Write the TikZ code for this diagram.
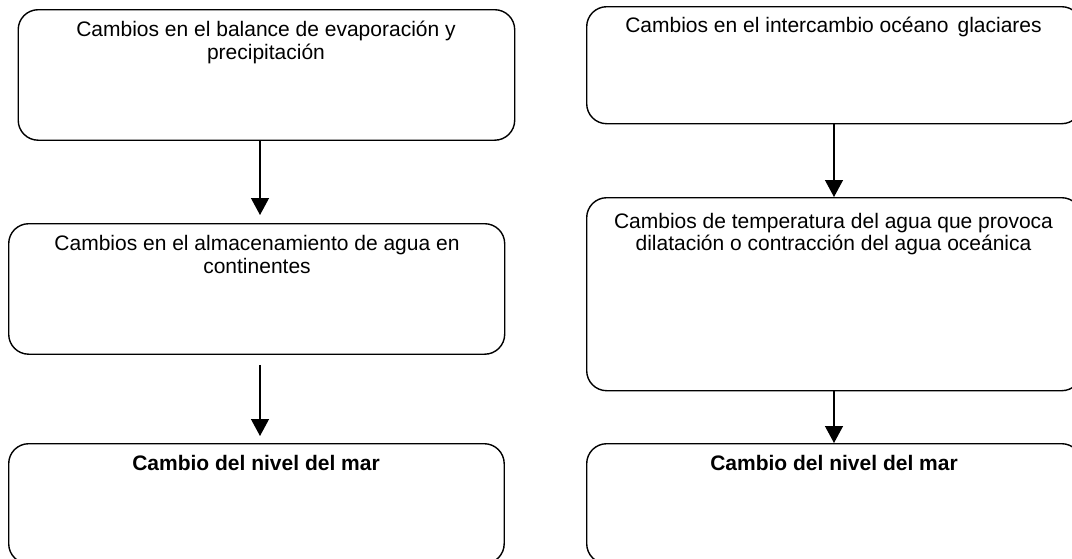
\documentclass[tikz,border=0pt]{standalone}
\usepackage{fontspec}
\setmainfont{Liberation Sans}
\usetikzlibrary{arrows.meta}
\tikzset{
  box/.style={draw, line width=1.4pt, rounded corners=20pt, inner sep=0pt, anchor=north west},
  txt/.style={inner sep=0pt, anchor=base, font=\fontsize{21}{23}\selectfont},
  btxt/.style={inner sep=0pt, anchor=base, font=\fontsize{21}{23}\selectfont\bfseries},
  arr/.style={line width=1.3pt, -{Triangle[width=18pt,length=17pt]}}
}
\begin{document}
\begin{tikzpicture}[x=1pt,y=-1pt]
\useasboundingbox (0,0) rectangle (1072,558);
\clip (0,0) rectangle (1072,558);
% left column
\node[box, minimum width=496.5pt, minimum height=130.5pt] (L1) at (17.5,9) {};
\node[box, minimum width=496pt, minimum height=130.5pt] (L2) at (8,223) {};
\node[box, minimum width=495.5pt, minimum height=120pt] (L3) at (8,443) {};
% right column
\node[box, minimum width=495pt, minimum height=117pt] (R1) at (586,6) {};
\node[box, minimum width=495pt, minimum height=193pt] (R2) at (586,197) {};
\node[box, minimum width=495pt, minimum height=120pt] (R3) at (586,443) {};
% texts
\node[txt] (L1a) at (266,36) {Cambios en el balance de evaporación y};
\node[txt] (L1b) at (266,59) {precipitación};
\node[txt] (L2a) at (257,250) {Cambios en el almacenamiento de agua en};
\node[txt] (L2b) at (257,273) {continentes};
\node[btxt] (L3a) at (256,470) {Cambio del nivel del mar};
\node[txt] (R1a) at (833.5,32) {Cambios en el intercambio océano\hspace{0.15em} glaciares};
\node[txt] (R2a) at (833.5,228) {Cambios de temperatura del agua que provoca};
\node[txt] (R2b) at (833.5,250.5) {dilatación o contracción del agua oceánica};
\node[btxt] (R3a) at (834,470) {Cambio del nivel del mar};
% connectors
\coordinate (xl) at (260,0);
\coordinate (xr) at (834,0);
\draw[arr, shorten >=8pt] (L1.south -| xl) -- (L2.north -| xl);
\draw[arr, shorten <=10pt, shorten >=7pt] (L2.south -| xl) -- (L3.north -| xl);
\draw[arr] (R1.south -| xr) -- (R2.north -| xr);
\draw[arr] (R2.south -| xr) -- (R3.north -| xr);
\end{tikzpicture}
\end{document}
